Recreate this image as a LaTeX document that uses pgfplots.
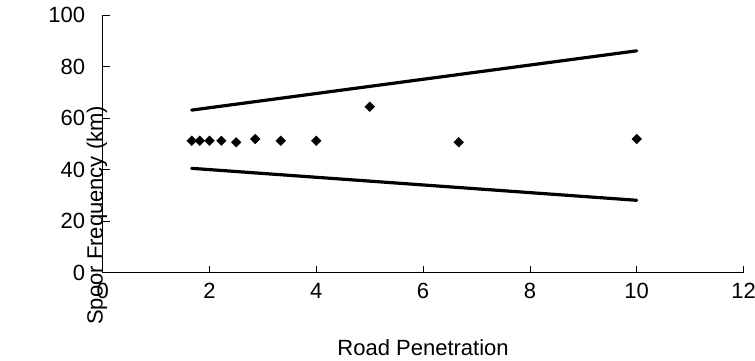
\documentclass[border=0pt]{standalone}
\usepackage{fontspec}
\setmainfont{Liberation Sans}
\usepackage{pgfplots}
\pgfplotsset{compat=1.18}
\begin{document}
\fontsize{22pt}{26pt}\selectfont
\begin{tikzpicture}
\path[use as bounding box] (-102.7pt,-87.3pt) rectangle (652.3pt,272.7pt);
\begin{axis}[
  at={(0pt,0pt)}, anchor=south west,
  scale only axis,
  width=640.8pt, height=257.7pt,
  xmin=0, xmax=12, ymin=0, ymax=100,
  xtick={0,2,...,12}, ytick={0,20,...,100},
  axis x line*=bottom, axis y line*=left,
  axis line style={line width=0.8pt, black},
  tick align=inside,
  major tick length=7pt,
  tick style={line width=0.8pt, black},
  /pgf/number format/assume math mode=true,
  ticklabel style={font=\fontsize{22pt}{26pt}\selectfont},
  yticklabel style={inner sep=0pt, anchor=east, xshift=-17.5pt},
  xticklabel style={inner sep=0pt, anchor=north, yshift=-10.5pt},
  xlabel={Road Penetration},
  ylabel={Spoor Frequency (km)},
  label style={font=\fontsize{22pt}{26pt}\selectfont},
  xlabel style={at={(axis description cs:0.5,0)}, anchor=base, inner sep=0pt, yshift=-82.3pt},
  ylabel style={at={(axis description cs:0,0.5)}, rotate=0, anchor=base, inner sep=0pt, xshift=-71.5pt},
  clip=false,
]
\addplot[black, line width=3.2pt, line cap=round] coordinates {(1.667,63.1) (10,86.1)};
\addplot[black, line width=3.2pt, line cap=round] coordinates {(1.667,40.5) (10,28.1)};
\addplot[only marks, mark=square*, mark size=3.4pt, mark options={rotate=45, fill=black, draw=black}] coordinates {
(1.667,51.2) (1.818,51.2) (2.0,51.2) (2.222,51.2) (2.5,50.6) (2.857,51.9)
(3.333,51.2) (4.0,51.2) (5.0,64.4) (6.667,50.6) (10.0,51.9)
};
\end{axis}
\end{tikzpicture}
\end{document}
